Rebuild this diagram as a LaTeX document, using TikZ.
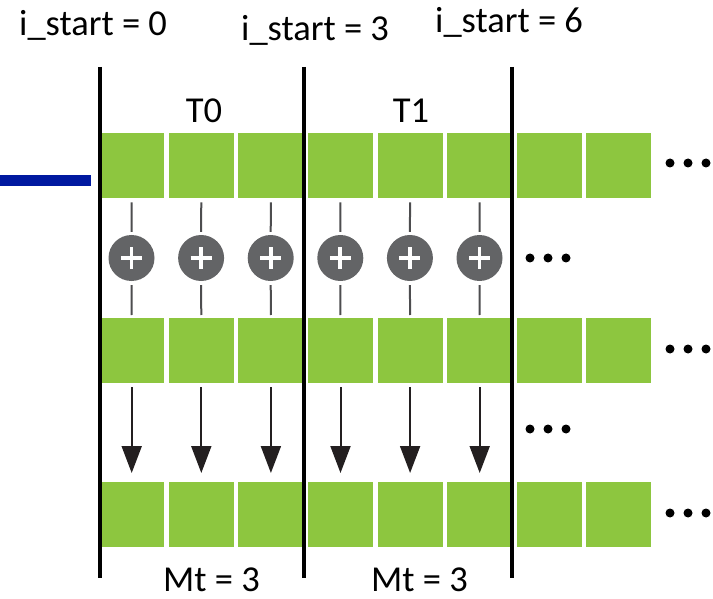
\documentclass[tikz,border=0pt]{standalone}
\usepackage{fontspec}
\setmainfont{Carlito}
\usetikzlibrary{arrows.meta}
\definecolor{cellgreen}{HTML}{8DC63F}
\definecolor{opgray}{HTML}{636466}
\definecolor{wiregray}{HTML}{4D4D4F}
\definecolor{tipdark}{HTML}{231F20}
\definecolor{barblue}{HTML}{0019A0}
\begin{document}
\begin{tikzpicture}[x=1pt,y=-1pt,
  cell/.style={fill=cellgreen,draw=none,minimum width=65pt,minimum height=65pt,inner sep=0pt,anchor=north west},
  addop/.style={circle,fill=opgray,draw=none,minimum size=46pt,inner sep=0pt,
    path picture={\draw[white,line width=3.8pt] (path picture bounding box.center) ++(-10.5pt,0) -- ++(21pt,0)
      (path picture bounding box.center) ++(0,-10.5pt) -- ++(0,21pt);}},
  wire/.style={wiregray,line width=2pt},
  flow/.style={tipdark,line width=2pt,-{Triangle[width=20pt,length=27pt]}},
  divider/.style={black,line width=4.5pt},
  dot/.style={circle,fill=black,minimum size=9pt,inner sep=0pt},
  lbl/.style={font=\fontsize{36.5}{40}\selectfont,inner sep=0pt}]
\useasboundingbox (0,0) rectangle (713,599);

% three rows of cells
\foreach \r/\y in {1/133,2/318,3/482}{
  \foreach \c in {0,...,7}{
    \node[cell] (r\r c\c) at ({99+69.6*\c},\y) {};
  }
}

% adders between row 1 and row 2, arrows between row 2 and row 3
\foreach \c in {0,...,5}{
  \node[addop] (add\c) at ({131.5+69.6*\c},258) {};
  \draw[wire,shorten <=4pt,shorten >=3pt] (r1c\c.south) -- (add\c.north);
  \draw[wire,shorten <=4pt,shorten >=3pt] (add\c.south) -- (r2c\c.north);
  \draw[flow,shorten <=4pt,shorten >=9pt] (r2c\c.south) -- (r3c\c.north);
}

% continuation dots
\foreach \x/\y/\n in {670/163/a,670/349/b,670/513/c,530/258/d,530/429/e}{
  \foreach \k in {0,1,2}{
    \node[dot] (dot\n\k) at ({\x+18*\k},\y) {};
  }
}

% tile boundaries
\draw[divider] (100,67) -- (100,578);
\draw[divider] (304,67) -- (304,578);
\draw[divider] (512,67) -- (512,578);

% incoming bar
\coordinate (barstart) at (0,180.5);
\coordinate (barend) at (91,180.5);
\draw[barblue,line width=11pt] (barstart) -- (barend);

% labels
\node[lbl,anchor=base west] (is0) at (19,36) {i\_start = 0};
\node[lbl,anchor=base west] (is3) at (241,41) {i\_start = 3};
\node[lbl,anchor=base west] (is6) at (435,33) {i\_start = 6};
\node[lbl,anchor=base] (t0) at (204,123) {T0};
\node[lbl,anchor=base] (t1) at (411,123) {T1};
\node[lbl,anchor=base west] (mt0) at (163,591) {Mt = 3};
\node[lbl,anchor=base west] (mt1) at (371,591) {Mt = 3};
\end{tikzpicture}
\end{document}
